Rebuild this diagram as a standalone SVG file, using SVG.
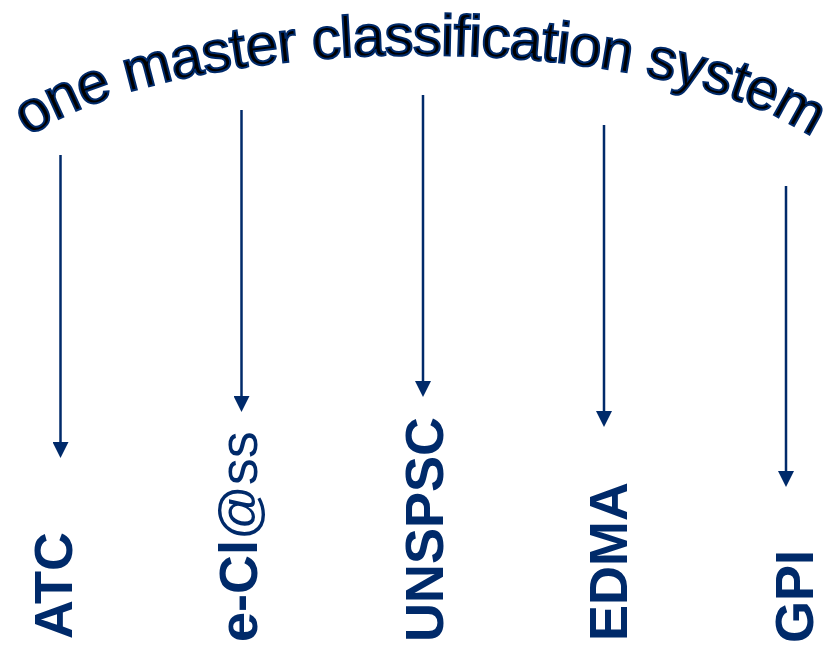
<svg xmlns="http://www.w3.org/2000/svg" width="831" height="645" viewBox="0 0 831 645">
  <style>
    .title { font-family: "Liberation Sans", Arial, sans-serif; font-size: 58px; letter-spacing: -0.8px; fill: #000000; stroke: #002a6a; stroke-width: 2; }
    .lbl { font-family: "Liberation Sans", Arial, sans-serif; font-size: 54px; font-weight: bold; fill: #002a6a; }
    .reg { font-weight: normal; }
    .conn { stroke: #002a6a; stroke-width: 2.5; fill: none; marker-end: url(#ah); }
  </style>
  <defs>
    <path id="arc" d="M -12 197 A 432 142 0 0 1 852 197"/>
    <marker id="ah" markerUnits="userSpaceOnUse" markerWidth="16" markerHeight="16" refX="6" refY="8" orient="auto" viewBox="0 0 16 16">
      <path d="M0 0 L16 8 L0 16 z" fill="#002a6a"/>
    </marker>
  </defs>
  <rect width="831" height="645" fill="#ffffff"/>
  <g id="title">
    <text class="title" text-anchor="middle"><textPath href="#arc" startOffset="50%">one master classification system</textPath></text>
  </g>
  <g id="connectors">
    <line class="conn" x1="60.5" y1="155" x2="60.5" y2="448"/>
    <line class="conn" x1="241.5" y1="110" x2="241.5" y2="402"/>
    <line class="conn" x1="423" y1="95" x2="423" y2="387"/>
    <line class="conn" x1="604" y1="125" x2="604" y2="417"/>
    <line class="conn" x1="786" y1="186" x2="786" y2="477"/>
  </g>
  <g id="atc"><text class="lbl" transform="translate(72,639) rotate(-90)">ATC</text></g>
  <g id="eclass"><text class="lbl" transform="translate(257,642) rotate(-90)">e-Cl<tspan class="reg">@ss</tspan></text></g>
  <g id="unspsc"><text class="lbl" transform="translate(443,642) rotate(-90)">UNSPSC</text></g>
  <g id="edma"><text class="lbl" transform="translate(627,641) rotate(-90)">EDMA</text></g>
  <g id="gpi"><text class="lbl" transform="translate(813,643) rotate(-90)">GPI</text></g>
</svg>
